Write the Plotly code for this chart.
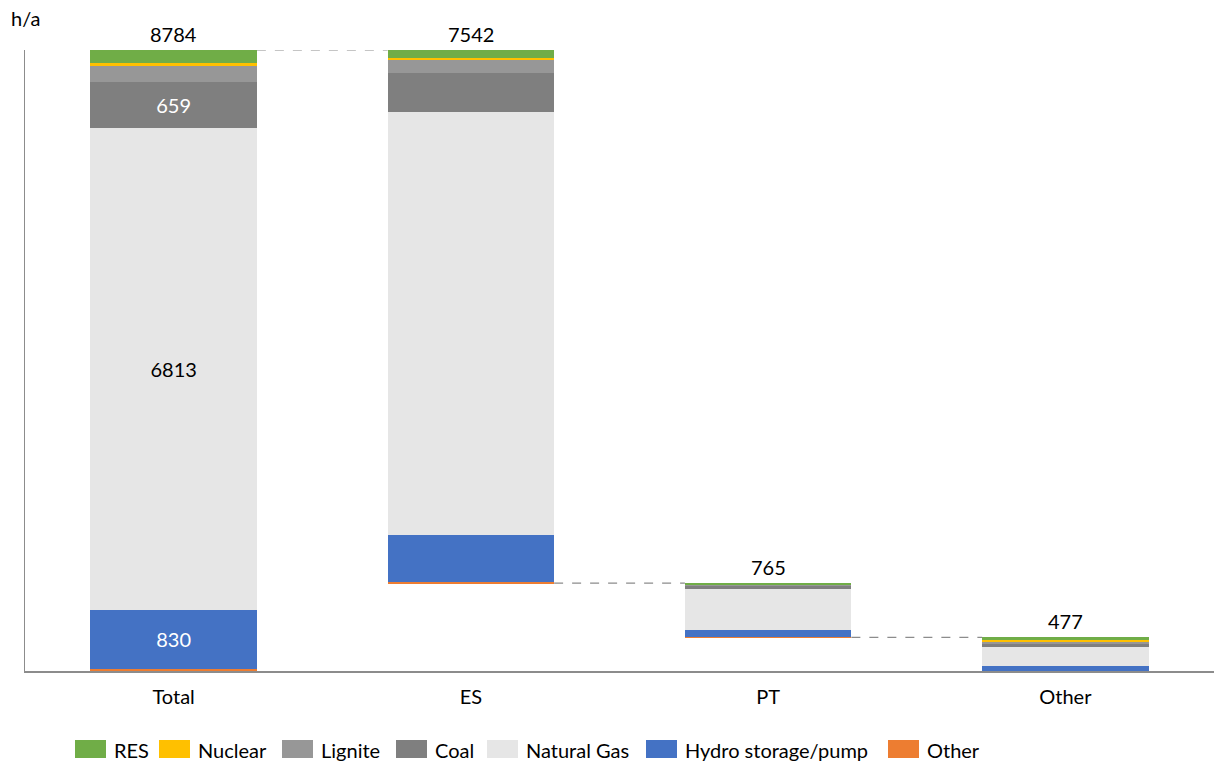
import plotly.graph_objects as go

categories = ["Total", "ES", "PT", "Other"]
series_names = ["Other", "Hydro storage/pump", "Natural Gas", "Coal", "Lignite", "Nuclear", "RES"]
other_vals = [35, 20, 8, 7]
hydro_vals = [830, 660, 100, 70]
gas_vals = [6813, 5980, 575, 258]
coal_vals = [659, 552, 55, 52]
lignite_vals = [220, 190, 2, 28]
nuclear_vals = [45, 25, 0, 20]
res_vals = [182, 115, 25, 42]
colors = {"RES": "#70AD47", "Nuclear": "#FFC000", "Lignite": "#979797", "Coal": "#7F7F7F",
          "Natural Gas": "#E6E6E6", "Hydro storage/pump": "#4472C4", "Other": "#ED7D31"}
legend_order = ["RES", "Nuclear", "Lignite", "Coal", "Natural Gas", "Hydro storage/pump", "Other"]
inside_labels = {"Coal": ["659", "", "", ""], "Natural Gas": ["6813", "", "", ""],
                 "Hydro storage/pump": ["830", "", "", ""]}
inside_label_color = {"Coal": "white", "Natural Gas": "black", "Hydro storage/pump": "white"}

series_vals = [other_vals, hydro_vals, gas_vals, coal_vals, lignite_vals, nuclear_vals, res_vals]
totals = [sum(v[i] for v in series_vals) for i in range(len(categories))]
# waterfall bases: Total and last start at 0, ES floats above PT+Other, PT above Other
bases = [0, totals[2] + totals[3], totals[3], 0]

FONT = "Lato"
FS = 20
BW = 0.56

fig = go.Figure()
fig.add_trace(go.Bar(x=categories, y=bases, marker=dict(color="rgba(0,0,0,0)",
                     line=dict(width=0, color="rgba(0,0,0,0)")), showlegend=False,
                     width=BW, hoverinfo="skip"))
for name, vals in zip(series_names, series_vals):
    txt = inside_labels.get(name)
    fig.add_trace(go.Bar(
        x=categories, y=vals, name=name, width=BW,
        marker=dict(color=colors[name], line=dict(width=0)),
        text=txt, textposition="inside" if txt else "none", insidetextanchor="middle",
        textangle=0, textfont=dict(family=FONT, size=FS, color=inside_label_color.get(name, "black")),
        showlegend=False, hoverinfo="skip"))

annotations = []
tops = [b + t for b, t in zip(bases, totals)]
for c, t, top in zip(categories, totals, tops):
    annotations.append(dict(x=c, y=top, text=str(t), showarrow=False, yanchor="bottom", yshift=2,
                            font=dict(family=FONT, size=FS, color="black")))
annotations.append(dict(x=-16 / 1189, y=1.0, xref="paper", yref="paper", text="h/a", showarrow=False,
                        xanchor="left", yanchor="bottom", yshift=18,
                        font=dict(family=FONT, size=FS, color="black")))

shapes = []
# connectors
conn = [(0, tops[0], 1), (1, bases[1], 2), (2, bases[2], 3)]
for i, yv, j in conn:
    shapes.append(dict(type="line", xref="x", yref="y", x0=i + BW / 2, x1=j - BW / 2, y0=yv, y1=yv,
                       line=dict(color="#8C8C8C", width=1.2, dash="dash")))

# manual legend
W = 1189.0
H = 621.0
sq_x = [75, 159, 282, 396, 487, 646, 888]
for name, x in zip(legend_order, sq_x):
    shapes.append(dict(type="rect", xref="paper", yref="paper",
                       x0=(x - 25) / W, x1=(x + 31 - 25) / W,
                       y0=(671 - 758) / H, y1=(671 - 740) / H,
                       fillcolor=colors[name], line=dict(width=0)))
    annotations.append(dict(x=(x + 37 - 25) / W, y=(671 - 749.5) / H, xref="paper", yref="paper",
                            text=name, showarrow=False, xanchor="left", yanchor="middle",
                            font=dict(family=FONT, size=FS, color="black")))

fig.update_layout(
    barmode="stack", width=1214, height=765,
    margin=dict(l=25, r=0, t=50, b=94),
    plot_bgcolor="white", paper_bgcolor="white",
    font=dict(family=FONT, size=FS, color="black"),
    annotations=annotations, shapes=shapes, showlegend=False,
    xaxis=dict(type="category", range=[-0.5, 3.5], showline=True, linecolor="#8C8C8C", linewidth=1.5,
               ticks="", showgrid=False, tickfont=dict(family=FONT, size=FS, color="black"),
               ticklabelstandoff=7),
    yaxis=dict(range=[0, 8784], showline=True, linecolor="#8C8C8C", linewidth=1, showticklabels=False,
               ticks="", showgrid=False, zeroline=False),
)
fig.write_html("out.html")
